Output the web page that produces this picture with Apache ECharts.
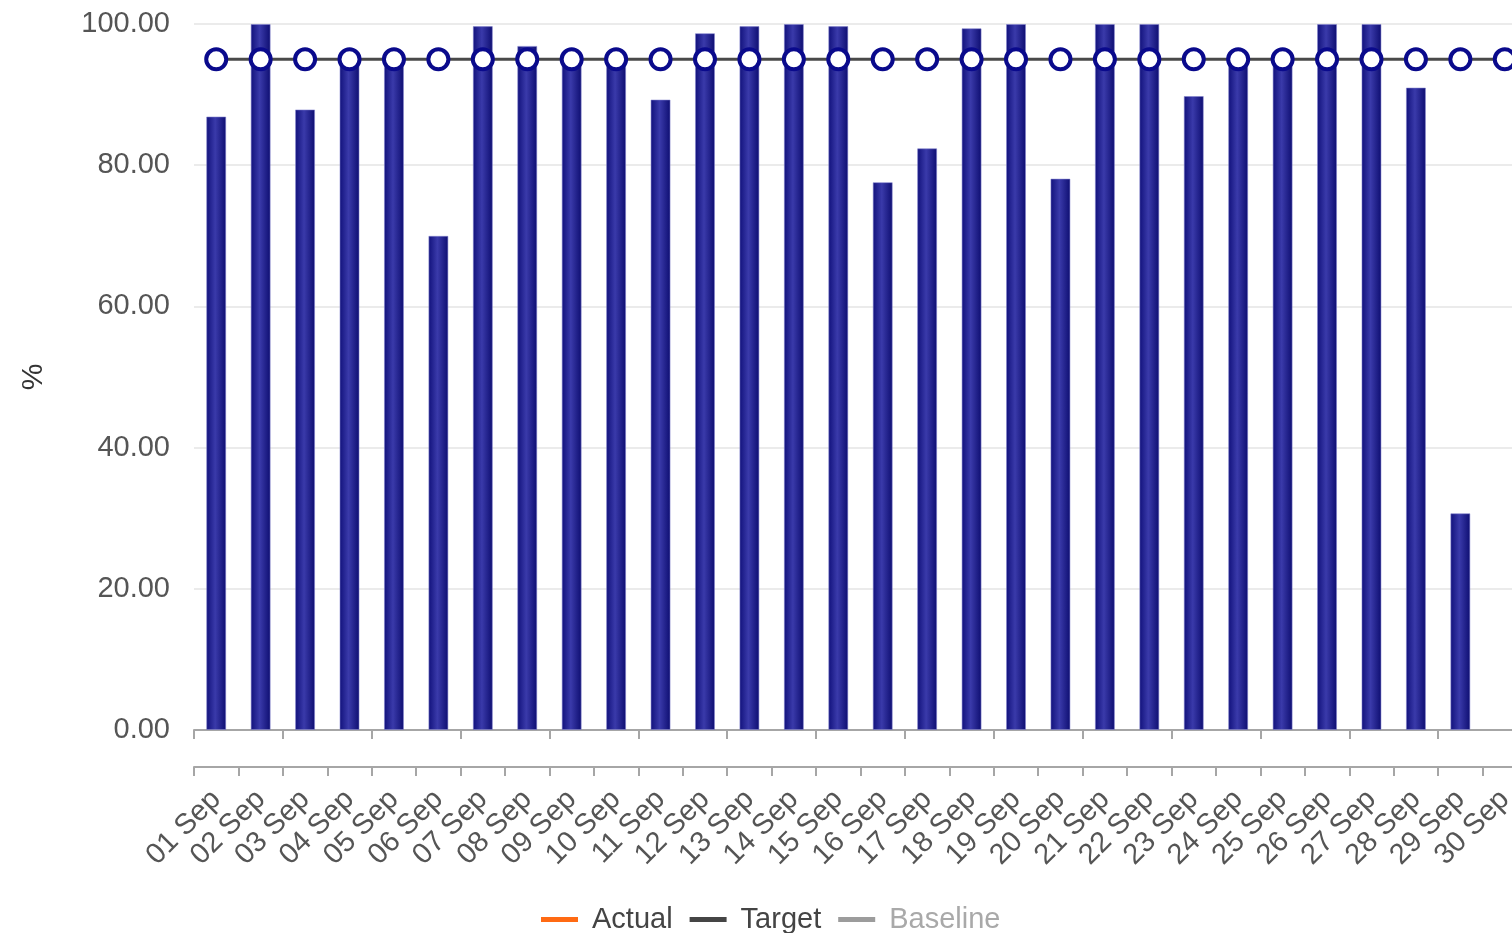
<!DOCTYPE html>
<html>
<head>
<meta charset="utf-8">
<title>Daily performance – September</title>
<script src="https://cdn.jsdelivr.net/npm/echarts@6/dist/echarts.min.js"></script>
<style>
  html, body { margin: 0; padding: 0; background: #ffffff; }
  #chart { width: 1512px; height: 933px; }
</style>
</head>
<body>
<div id="chart"></div>
<script>
// Days of the month
const categories = [
  '01 Sep', '02 Sep', '03 Sep', '04 Sep', '05 Sep', '06 Sep', '07 Sep', '08 Sep', '09 Sep', '10 Sep',
  '11 Sep', '12 Sep', '13 Sep', '14 Sep', '15 Sep', '16 Sep', '17 Sep', '18 Sep', '19 Sep', '20 Sep',
  '21 Sep', '22 Sep', '23 Sep', '24 Sep', '25 Sep', '26 Sep', '27 Sep', '28 Sep', '29 Sep', '30 Sep'
];

// Achieved percentage per day (no reading yet for the last day)
const actualValues = [
  86.9, 100, 87.9, 95.5, 95.5, 70.0, 99.7, 96.9, 95.3, 95.3,
  89.3, 98.7, 99.7, 100, 99.7, 77.6, 82.4, 99.4, 100, 78.1,
  100, 100, 89.8, 95.3, 95.3, 100, 100, 91.0, 30.7, null
];

// Daily target
const targetValues = [
  95, 95, 95, 95, 95, 95, 95, 95, 95, 95,
  95, 95, 95, 95, 95, 95, 95, 95, 95, 95,
  95, 95, 95, 95, 95, 95, 95, 95, 95, 95
];

// Baseline has no readings for this period
const baselineValues = [];

const yTicks = { min: 0, max: 100, interval: 20 };

const chart = echarts.init(document.getElementById('chart'));

const FONT = '"Liberation Sans", Arial, sans-serif';
const axisGray = '#a6a6a6';

const option = {
  animation: false,
  textStyle: { fontFamily: FONT },
  grid: {
    left: 194, top: 24, width: 1333, height: 706,
    containLabel: false,
    outerBoundsMode: 'none'
  },
  legend: {
    left: 536,
    top: 900,
    icon: 'rect',
    itemWidth: 37,
    itemHeight: 5,
    itemGap: 17,
    textStyle: { fontSize: 29, color: '#444', fontFamily: FONT, padding: [0, 0, 0, 9] },
    data: [
      { name: 'Actual', itemStyle: { color: '#ff6a13', borderWidth: 0 } },
      { name: 'Target', itemStyle: { color: '#454545', borderWidth: 0 } },
      { name: 'Baseline', itemStyle: { color: '#9c9c9c', borderWidth: 0 }, textStyle: { color: '#a9a9a9' } }
    ]
  },
  xAxis: [
    {
      type: 'category',
      data: categories,
      position: 'bottom',
      boundaryGap: true,
      axisLine: { show: true, lineStyle: { color: axisGray, width: 2 } },
      axisTick: { show: true, length: 9, lineStyle: { color: axisGray, width: 2 } },
      axisLabel: { show: false }
    },
    {
      type: 'category',
      data: categories,
      position: 'bottom',
      offset: 37,
      boundaryGap: true,
      axisLine: { show: true, lineStyle: { color: axisGray, width: 2 } },
      axisTick: { show: true, length: 9, lineStyle: { color: axisGray, width: 2 } },
      axisLabel: {
        show: true,
        interval: 0,
        rotate: 45,
        margin: 28,
        fontSize: 29,
        color: '#555',
        fontFamily: FONT
      }
    }
  ],
  yAxis: {
    type: 'value',
    min: yTicks.min,
    max: yTicks.max,
    interval: yTicks.interval,
    name: '%',
    nameLocation: 'middle',
    nameGap: 145,
    nameRotate: 90,
    nameTextStyle: { fontSize: 30, color: '#333', fontFamily: FONT },
    axisLine: { show: false },
    axisTick: { show: false },
    axisLabel: {
      margin: 24,
      fontSize: 29,
      color: '#555',
      fontFamily: FONT,
      formatter: v => v.toFixed(2)
    },
    splitLine: { show: true, lineStyle: { color: '#e4e4e4', width: 1.5 } }
  },
  series: [
    {
      name: 'Actual',
      type: 'bar',
      xAxisIndex: 0,
      data: actualValues,
      barWidth: 20,
      itemStyle: {
        color: new echarts.graphic.LinearGradient(0, 0, 1, 0, [
          { offset: 0, color: '#10107a' },
          { offset: 0.45, color: '#3a3aaa' },
          { offset: 1, color: '#0d0d70' }
        ]),
        borderColor: 'rgba(130,130,205,0.55)',
        borderWidth: 1
      },
      z: 2
    },
    {
      name: 'Target',
      type: 'line',
      xAxisIndex: 0,
      data: targetValues,
      symbol: 'circle',
      symbolSize: 20,
      showAllSymbol: true,
      lineStyle: { color: '#4a4a4a', width: 3 },
      itemStyle: { color: '#ffffff', borderColor: '#0a0a8c', borderWidth: 4 },
      z: 3
    },
    {
      name: 'Baseline',
      type: 'line',
      xAxisIndex: 0,
      data: baselineValues,
      lineStyle: { color: '#9c9c9c', width: 3 },
      itemStyle: { color: '#9c9c9c' }
    }
  ]
};

chart.setOption(option);
</script>
</body>
</html>
